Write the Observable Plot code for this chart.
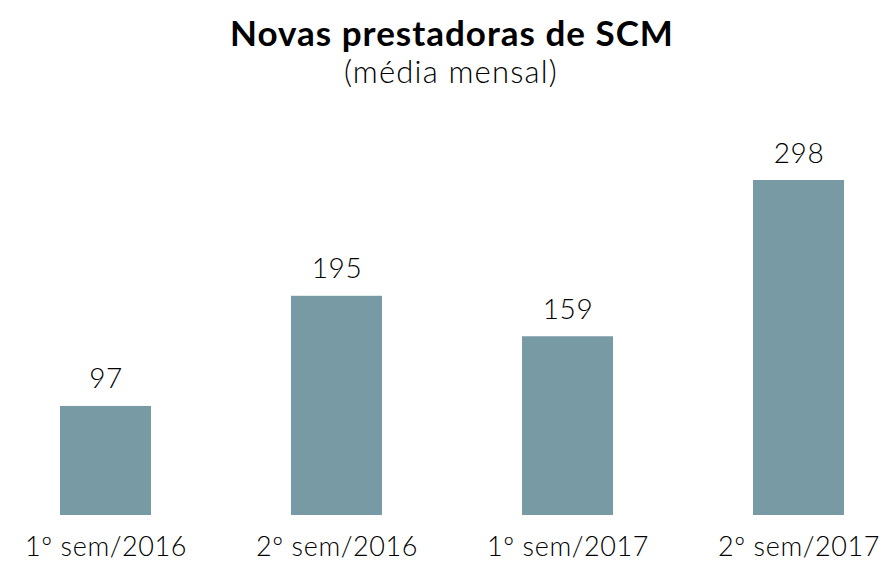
<!DOCTYPE html>
<html>
<head>
<meta charset="utf-8">
<script src="https://cdn.jsdelivr.net/npm/d3@7"></script>
<script src="https://cdn.jsdelivr.net/npm/@observablehq/plot@0.6"></script>
<style>
  html, body { margin: 0; padding: 0; background: #fff; }
  #wrap { width: 882px; height: 562px; position: relative; font-family: Lato, "Open Sans", sans-serif; color: #000; }
  #title { position: absolute; top: 12px; left: 22px; width: 860px; text-align: center; font-weight: 700; font-size: 35px; line-height: 40px; letter-spacing: 1.0px; }
  #subtitle { position: absolute; top: 54px; left: 20px; width: 862px; text-align: center; font-weight: 300; font-size: 31px; line-height: 34px; letter-spacing: 1.2px; }
  #chart { position: absolute; top: 100px; left: 0; }
</style>
</head>
<body>
<div id="wrap">
  <div id="title">Novas prestadoras de SCM</div>
  <div id="subtitle">(média mensal)</div>
  <div id="chart"></div>
</div>
<script>
const categories = ["1º sem/2016", "2º sem/2016", "1º sem/2017", "2º sem/2017"];
const values = [97, 195, 159, 298];
const barColor = "#789aa5";

const data = categories.map((c, i) => ({category: c, value: values[i]}));

const chart = Plot.plot({
  width: 882,
  height: 462,
  marginLeft: 60,
  marginRight: 37,
  marginTop: 80,
  marginBottom: 47,
  style: {fontFamily: "Lato, 'Open Sans', sans-serif", background: "transparent", color: "#000", letterSpacing: "0.6px"},
  x: {domain: categories, paddingInner: 0.606, paddingOuter: 0, label: null},
  y: {domain: [0, 298], axis: null},
  marks: [
    Plot.barY(data, {x: "category", y: "value", fill: barColor}),
    Plot.text(data, {x: "category", y: "value", text: d => String(d.value), dy: -18, lineAnchor: "bottom", fontSize: 28, fontWeight: 300, fill: "#000"}),
    Plot.axisX({tickSize: 0, tickPadding: 21, fontSize: 27, fontWeight: 300, lineAnchor: "top", label: null, fill: "#000"})
  ]
});
document.getElementById("chart").appendChild(chart);
</script>
</body>
</html>
